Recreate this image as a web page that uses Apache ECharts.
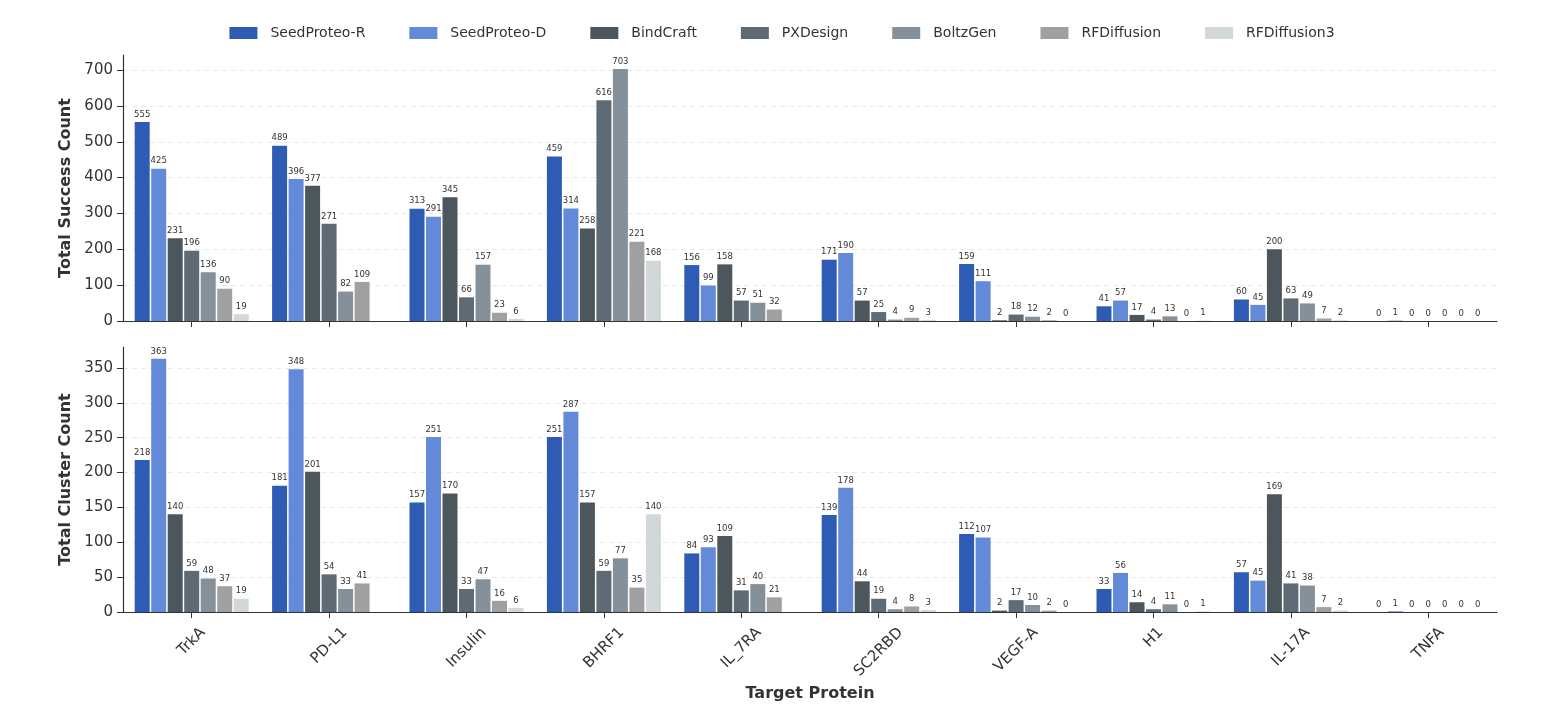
<!DOCTYPE html>
<html>
<head>
<meta charset="utf-8">
<script src="https://cdn.jsdelivr.net/npm/echarts@6/dist/echarts.min.js"></script>
<style>
html,body{margin:0;padding:0;background:#fff;}
#chart{width:1564px;height:724px;}
</style>
</head>
<body>
<div id="chart"></div>
<script>
var categories = ['TrkA','PD-L1','Insulin','BHRF1','IL_7RA','SC2RBD','VEGF-A','H1','IL-17A','TNFA'];
var seriesNames = ['SeedProteo-R','SeedProteo-D','BindCraft','PXDesign','BoltzGen','RFDiffusion','RFDiffusion3'];
var colors = ['#2e5bb4','#638ad9','#4c575d','#5f6b74','#84909a','#a0a0a0','#d2d8d9'];

// Total Success Count (null = not evaluated)
var successR  = [555, 489, 313, 459, 156, 171, 159, 41, 60, 0];
var successD  = [425, 396, 291, 314, 99, 190, 111, 57, 45, 1];
var successBC = [231, 377, 345, 258, 158, 57, 2, 17, 200, 0];
var successPX = [196, 271, 66, 616, 57, 25, 18, 4, 63, 0];
var successBG = [136, 82, 157, 703, 51, 4, 12, 13, 49, 0];
var successRF = [90, 109, 23, 221, 32, 9, 2, 0, 7, 0];
var successRF3= [19, null, 6, 168, null, 3, 0, 1, 2, 0];

// Total Cluster Count
var clusterR  = [218, 181, 157, 251, 84, 139, 112, 33, 57, 0];
var clusterD  = [363, 348, 251, 287, 93, 178, 107, 56, 45, 1];
var clusterBC = [140, 201, 170, 157, 109, 44, 2, 14, 169, 0];
var clusterPX = [59, 54, 33, 59, 31, 19, 17, 4, 41, 0];
var clusterBG = [48, 33, 47, 77, 40, 4, 10, 11, 38, 0];
var clusterRF = [37, 41, 16, 35, 21, 8, 2, 0, 7, 0];
var clusterRF3= [19, null, 6, 140, null, 3, 0, 1, 2, 0];

var successTicks = [0,100,200,300,400,500,600,700];
var clusterTicks = [0,50,100,150,200,250,300,350];

var successData = [successR, successD, successBC, successPX, successBG, successRF, successRF3];
var clusterData = [clusterR, clusterD, clusterBC, clusterPX, clusterBG, clusterRF, clusterRF3];

var FONT = 'DejaVu Sans';
var TICK_FS = 15;
var chart = echarts.init(document.getElementById('chart'), null, {renderer:'canvas'});

// measure label widths so rotated labels are centred under their ticks (matplotlib style)
var cv = document.createElement('canvas').getContext('2d');
cv.font = TICK_FS + 'px "' + FONT + '"';
var LH = TICK_FS;
var richStyles = {};
categories.forEach(function(c, i){
  var w = cv.measureText(c).width;
  var p = (w + LH) / 2;
  richStyles['c' + i] = {fontFamily: FONT, fontSize: TICK_FS, color: '#333', lineHeight: LH, padding: [p, p, 0, 0]};
});

function mkSeries(dataArr, axisIdx){
  return dataArr.map(function(arr, i){
    return {
      name: seriesNames[i],
      type: 'bar',
      xAxisIndex: axisIdx,
      yAxisIndex: axisIdx,
      barWidth: 15,
      barGap: '10%',
      data: arr.map(function(v){ return v === null ? '-' : v; }),
      itemStyle: {color: colors[i]},
      label: {show: true, position: 'top', distance: 3, fontSize: 8.5, color: '#333', fontFamily: FONT},
      animation: false
    };
  });
}

function yAxis(idx, max, ticks, name){
  var gridColors = ticks.map(function(){ return '#e9e9e9'; });
  gridColors.push('rgba(0,0,0,0)');
  return {
    type: 'value', gridIndex: idx, min: 0, max: max, interval: ticks[1]-ticks[0],
    name: name, nameLocation: 'middle', nameGap: 44,
    nameTextStyle: {fontFamily: FONT, fontSize: 16, fontWeight: 'bold', color: '#333'},
    axisLine: {show: true, lineStyle: {color: '#333', width: 1.2}},
    axisTick: {show: true, length: 6, lineStyle: {color: '#333'}, customValues: ticks},
    axisLabel: {fontFamily: FONT, fontSize: TICK_FS, color: '#333', margin: 10, customValues: ticks,
      formatter: function(v){ return ticks.indexOf(v) >= 0 ? String(v) : ''; }},
    splitLine: {show: true, lineStyle: {color: gridColors, type: [5,4], width: 1}}
  };
}

function xAxis(idx, showLabels){
  var ax = {
    type: 'category', gridIndex: idx, data: categories,
    axisLine: {show: true, lineStyle: {color: '#333', width: 1.2}},
    axisTick: {show: true, alignWithLabel: true, length: 6, lineStyle: {color: '#333'}},
    axisLabel: {show: showLabels, interval: 0, rotate: 45, margin: 13,
      align: 'center', verticalAlign: 'middle',
      fontFamily: FONT, fontSize: TICK_FS, color: '#333',
      formatter: function(v, i){ return '{c' + categories.indexOf(v) + '|' + v + '}'; },
      rich: richStyles},
    splitLine: {show: false}
  };
  if (showLabels) {
    ax.name = 'Target Protein';
    ax.nameLocation = 'middle';
    ax.nameGap = 74;
    ax.nameTextStyle = {fontFamily: FONT, fontSize: 16, fontWeight: 'bold', color: '#333'};
  }
  return ax;
}

var option = {
  backgroundColor: '#fff',
  animation: false,
  color: colors,
  legend: {
    top: 21, left: 'center',
    itemWidth: 28, itemHeight: 12, itemGap: 44,
    icon: 'rect',
    textStyle: {fontFamily: FONT, fontSize: 14, color: '#333', padding: [0, 0, 0, 8]},
    data: seriesNames
  },
  grid: [
    {left: 123, right: 67, top: 55, height: 266},
    {left: 123, right: 67, top: 347, height: 265}
  ],
  xAxis: [xAxis(0, false), xAxis(1, true)],
  yAxis: [
    yAxis(0, 742, successTicks, 'Total Success Count'),
    yAxis(1, 380, clusterTicks, 'Total Cluster Count')
  ],
  series: mkSeries(successData, 0).concat(mkSeries(clusterData, 1))
};
chart.setOption(option);
</script>
</body>
</html>
